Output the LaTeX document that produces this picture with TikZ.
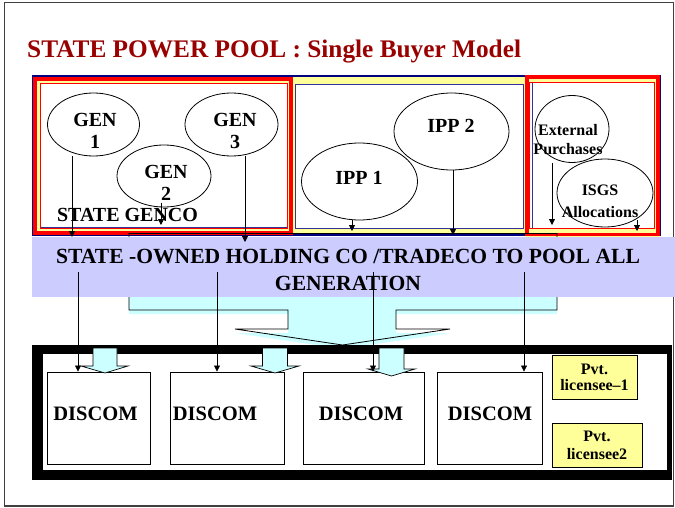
\documentclass[tikz,border=0pt]{standalone}
\usepackage{fontspec}
\setmainfont{Liberation Serif}
\usetikzlibrary{arrows.meta,calc,shapes.geometric}
\definecolor{titlered}{RGB}{153,0,0}
\definecolor{boxred}{RGB}{255,0,0}
\definecolor{navy}{RGB}{0,0,128}
\definecolor{lineblue}{RGB}{51,51,153}
\definecolor{paleyellow}{RGB}{255,255,153}
\definecolor{lavender}{RGB}{204,204,255}
\definecolor{palecyan}{RGB}{204,255,255}
\definecolor{framegray}{RGB}{64,64,64}
\begin{document}
\begin{tikzpicture}[x=1pt,y=-1pt,
  bubble/.style={draw=black, line width=0.8pt, fill=white, ellipse, inner sep=0pt},
  lbl/.style={font=\bfseries\fontsize{20}{22}\selectfont, align=center, inner sep=0pt},
  smalllbl/.style={font=\bfseries\fontsize{16}{19}\selectfont, align=center, inner sep=0pt},
  arr/.style={draw=black, line width=0.8pt, -{Triangle[length=6pt,width=6pt]}},
  discom/.style={draw=black, line width=0.9pt, fill=white, minimum height=92pt, inner sep=0pt},
  discomtxt/.style={font=\bfseries\fontsize{20.5}{24}\selectfont, inner sep=0pt},
  pvt/.style={draw=black, line width=0.9pt, fill=paleyellow, inner sep=0pt, minimum height=44pt, align=center},
  blockarrow/.style={draw=black, line width=0.7pt, fill=palecyan}
]
\useasboundingbox (0,0) rectangle (675,508);
\fill[white] (0,0) rectangle (675,508);
% frame
\draw[framegray, line width=1.5pt] (4.3,2.3) rectangle (673.5,505.8);
% title
\node[anchor=base west, inner sep=0pt, text=titlered,
  font=\bfseries\fontsize{25.3}{28}\selectfont] (title) at (27,58)
  {STATE POWER POOL : Single Buyer Model};

% top group of boxes
\draw[navy, line width=1.6pt, fill=paleyellow] (32.5,75.8) rectangle (660,235.2);
\draw[lineblue, line width=0.8pt, fill=white] (295,84) rectangle (523,228);
% left (state genco) box
\fill[paleyellow] (33,77) rectangle (293,235);
\draw[boxred, line width=4pt] (35,79) rectangle (291,233);
\draw[boxred, line width=0.9pt, fill=white] (40.5,83.8) rectangle (287,228);
\draw[lineblue, line width=0.8pt] (40.5,227) -- (287,227);
% right box
\fill[paleyellow] (525,75) rectangle (660,236.5);
\draw[boxred, line width=3.5pt] (527,77) rectangle (658,234.5);
\draw[boxred, line width=0.9pt, fill=white] (529.5,82.5) rectangle (654,228);
\draw[lineblue, line width=0.8pt] (532,83) -- (532,227.5);

% big block arrow (pool to discoms)
\fill[palecyan, shift={(0,4)}] (129,233.5) -- (129,310) -- (288,310) -- (288,329) -- (235,329)
  -- (342.5,345) -- (450,329) -- (396,329) -- (396,310) -- (557,310) -- (557,233.5) -- cycle;
\draw[black, line width=0.8pt] (129,233.5) -- (129,310) -- (288,310) -- (288,329) -- (235,329)
  -- (342.5,345) -- (450,329) -- (396,329) -- (396,310) -- (557,310) -- (557,233.5) -- cycle;

% generators
\node[bubble, minimum width=92pt, minimum height=63pt] (gen1) at (93.5,124.5) {};
\node[bubble, minimum width=94pt, minimum height=62pt] (gen2) at (164,176) {};
\node[bubble, minimum width=93pt, minimum height=63pt] (gen3) at (231.5,124.5) {};
\node[bubble, minimum width=116pt, minimum height=77pt] (ipp1) at (359.5,181.5) {};
\node[bubble, minimum width=115pt, minimum height=77pt] (ipp2) at (451.5,131.5) {};
\node[bubble, minimum width=74pt, minimum height=67pt] (ext) at (572,129) {};
\node[bubble, minimum width=96pt, minimum height=68pt] (isgs) at (605,193) {};

\node[lbl] (gen1t) at (95,131) {GEN\\1};
\node[lbl] (gen3t) at (235,131) {GEN\\3};
\node[lbl] (gen2t) at (166,182.5) {GEN\\2};
\node[lbl] (ipp1t) at (359,177.5) {IPP 1};
\node[lbl] (ipp2t) at (451,125.5) {IPP 2};
\node[smalllbl] (extt) at (568,139.3) {External\\Purchases};
\node[smalllbl, font=\bfseries\fontsize{16}{22}\selectfont] (isgst) at (600,201) {ISGS\\Allocations};
\node[lbl] (genco) at (127.5,215.4) {STATE GENCO};

% pooling band
\node[fill=lavender, minimum width=643pt, minimum height=60pt, inner sep=0pt, anchor=north west] (band) at (32,237) {};
\node[font=\bfseries\fontsize{21.6}{26.5}\selectfont, align=center, inner sep=0pt] (bandt) at (348,270.2)
  {STATE -OWNED HOLDING CO /TRADECO TO POOL ALL\\GENERATION};

% distribution area
\fill[black] (32,345) rectangle (672,480);
\draw[black, line width=0.6pt, fill=white] (42,353) rectangle (667,470);
\node[discom, minimum width=103pt] (dis1) at (98.5,418) {};
\node[discom, minimum width=114pt] (dis2) at (227,418) {};
\node[discom, minimum width=121pt] (dis3) at (363.5,418) {};
\node[discom, minimum width=105pt] (dis4) at (489.5,418) {};
\node[discomtxt] (dis1t) at (95.5,414) {DISCOM};
\node[discomtxt] (dis2t) at (215,414) {DISCOM};
\node[discomtxt] (dis3t) at (361,414) {DISCOM};
\node[discomtxt] (dis4t) at (490,414) {DISCOM};
\node[pvt, minimum width=85pt, font=\bfseries\fontsize{16}{16}\selectfont] (pvt1) at (594.5,377) {Pvt.\\licensee--1};
\node[pvt, minimum width=90pt, font=\bfseries\fontsize{16}{18}\selectfont] (pvt2) at (597,445) {Pvt.\\licensee2};

% small block arrows
\path[blockarrow] (93,348) -- (93,366) -- (81,366) -- (105,373) -- (128,366) -- (117,366) -- (117,348) -- cycle;
\path[blockarrow] (262.5,348) -- (262.5,366) -- (251,366) -- (275,373) -- (299,366) -- (287.5,366) -- (287.5,348) -- cycle;
\path[blockarrow] (379,348) -- (379,369) -- (368,369) -- (391.5,376) -- (415,369) -- (404,369) -- (404,348) -- cycle;

% connectors from sources to pool
\coordinate (e1) at (72,237);
\coordinate (e2) at (161,225);
\coordinate (e3) at (245,242);
\coordinate (e4) at (352,231);
\coordinate (e5) at (453,235);
\coordinate (e6) at (552,225);
\coordinate (e7) at (637,231);
\draw[arr] (gen1.south -| e1) -- (e1);
\draw[arr] ($(gen2.south -| e2)+(0,-4)$) -- (e2);
\draw[arr] (gen3.south -| e3) -- (e3);
\draw[arr] (ipp1.south -| e4) -- (e4);
\draw[arr] (ipp2.south -| e5) -- (e5);
\draw[arr] (ext.south -| e6) -- (e6);
\draw[arr] ($(isgs.south -| e7)+(0,-7)$) -- (e7);

% connectors from pool to discoms
\coordinate (s1) at (78,272);
\coordinate (s2) at (217,272);
\coordinate (s3) at (373,272);
\coordinate (s4) at (524,272);
\draw[arr] (s1) -- (s1 |- dis1.north);
\draw[arr] (s2) -- (s2 |- dis2.north);
\draw[arr] (s3) -- (s3 |- dis3.north);
\draw[arr] (s4) -- (s4 |- dis4.north);
\end{tikzpicture}
\end{document}
